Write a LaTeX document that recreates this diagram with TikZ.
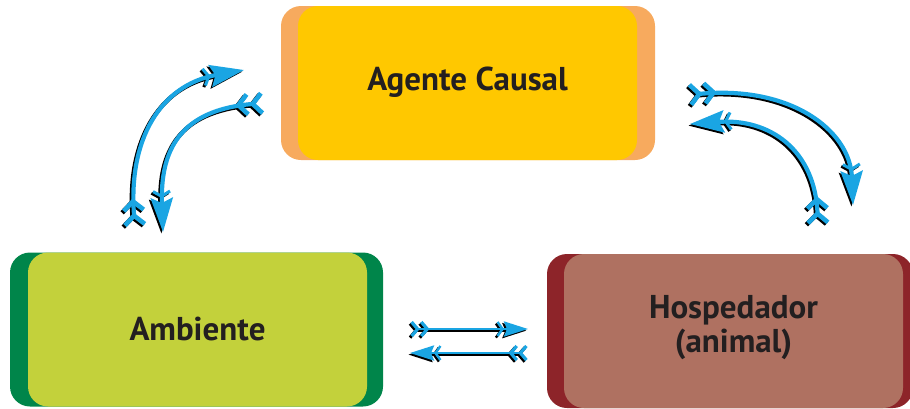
\documentclass[tikz,border=0pt]{standalone}
\usepackage{fontspec}
\setmainfont{PT Sans}
\usetikzlibrary{arrows.meta}
\definecolor{orangeO}{HTML}{F7AA5E}
\definecolor{yellowI}{HTML}{FFC800}
\definecolor{greenO}{HTML}{00854A}
\definecolor{greenI}{HTML}{C3D13B}
\definecolor{redO}{HTML}{8D2429}
\definecolor{brownI}{HTML}{AF7161}
\definecolor{arrblue}{HTML}{1AA5E3}
\definecolor{txt}{HTML}{231F20}
\tikzset{
  Flet/.tip={Straight Barb[reversed,length=9pt,width=20pt,line width=4.6pt,line join=miter] Straight Barb[reversed,length=9pt,width=20pt,line width=4.6pt,line join=miter]},
  Head/.tip={Straight Barb[length=5pt,width=17pt,line width=3pt,line join=miter] Stealth[length=34pt,width=22pt,inset=5pt]},
  SFlet/.tip={Straight Barb[reversed,length=6pt,width=14pt,line width=3.2pt,line join=miter] Straight Barb[reversed,length=6pt,width=14pt,line width=3.2pt,line join=miter]},
  SHead/.tip={Straight Barb[length=5pt,width=14pt,line width=2.4pt,line join=miter] Stealth[length=24pt,width=15pt,inset=3pt]},
}
\newcommand\DArr[2]{%
  \draw[#1, black, transform canvas={xshift=-1.6pt,yshift=-1.6pt}] #2;
  \draw[#1, arrblue] #2;}
\begin{document}
\begin{tikzpicture}[x=1pt,y=-1pt,
  box/.style={rounded corners=20pt, minimum height=154pt, inner sep=0pt, draw=none},
  lbl/.style={font=\fontsize{33}{34}\selectfont\bfseries, align=center, text=txt},
  arr/.style={line width=4.2pt, arrows={Flet-Head}},
  sarr/.style={line width=2.8pt, arrows={SFlet-SHead}}]
\useasboundingbox (0,0) rectangle (910,408);
% Agente Causal
\node[box, fill=orangeO, minimum width=374pt] (agO) at (468,83) {};
\node[box, fill=yellowI, minimum width=339pt] (ag) at (467.5,83) {};
\node[lbl] (agT) at (467.5,82) {Agente Causal};
% Ambiente
\node[box, fill=greenO, minimum width=373pt] (amO) at (196.5,329.5) {};
\node[box, fill=greenI, minimum width=339pt] (am) at (197.5,329.5) {};
\node[lbl] (amT) at (197.5,328.5) {Ambiente};
% Hospedador
\node[box, fill=redO, minimum width=366pt] (hoO) at (730,331) {};
\node[box, fill=brownI, minimum width=339pt] (ho) at (733.5,331) {};
\node[lbl] (hoT) at (733.5,328) {Hospedador\\(animal)};
% arrow end points
\coordinate (a1s) at (135,227); \coordinate (a1e) at (244,70);
\coordinate (a2s) at (264,103); \coordinate (a2e) at (163,232);
\coordinate (a3s) at (688,95);  \coordinate (a3e) at (853,205);
\coordinate (a4s) at (818,225); \coordinate (a4e) at (690,124);
\coordinate (a5s) at (410,329); \coordinate (a5e) at (528,329);
\coordinate (a6s) at (528,353); \coordinate (a6e) at (410,353);
\DArr{arr}{(a1s) .. controls (128,140) and (160,85) .. (a1e)}
\DArr{arr}{(a2s) .. controls (180,110) and (160,150) .. (a2e)}
\DArr{arr}{(a3s) .. controls (790,85) and (850,130) .. (a3e)}
\DArr{arr}{(a4s) .. controls (815,150) and (770,118) .. (a4e)}
\DArr{sarr}{(a5s) -- (a5e)}
\DArr{sarr}{(a6s) -- (a6e)}
\end{tikzpicture}
\end{document}
